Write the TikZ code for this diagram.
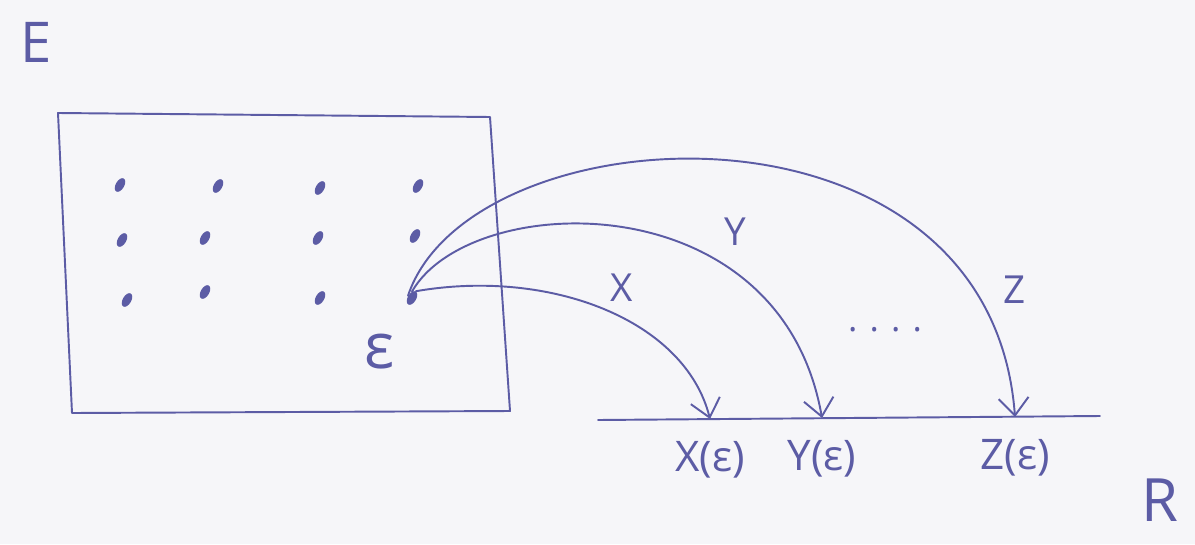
\documentclass[tikz,border=0pt]{standalone}
\usepackage{fontspec}
\setmainfont{Open Sans}
\usepackage{xcolor}
\usepackage{tikz}
\usetikzlibrary{positioning, arrows.meta, shapes.geometric}

\definecolor{ink}{RGB}{92,92,165}
\definecolor{paper}{RGB}{246,246,249}

\tikzset{
  pen/.style={draw=ink, line width=1.1pt, line cap=round, line join=round},
  map/.style={pen, -{Straight Barb[length=10pt, width=17pt, line width=1.1pt]}},
  dot/.style={ellipse, fill=ink, inner sep=0pt, minimum width=0.3cm, minimum height=0.17cm, rotate=60},
  hand/.style={text=ink, inner sep=1pt, font=\fontsize{#1}{#1}\selectfont},
  hand/.default=24pt
}

\begin{document}
\begin{tikzpicture}[x=0.02cm, y=-0.02cm]
    \useasboundingbox[fill=paper] (0,0) rectangle (1195,544);

    % sample space
    \node[hand=32pt] (setE) at (36,42) {E};
    \draw[pen] (58,113) -- (490,117) -- (510,411) -- (72,413) -- cycle;

    % outcomes
    \foreach \x/\y [count=\i] in {120/185, 218/186, 320/188, 418/186,
                                  122/240, 205/238, 318/238, 415/236,
                                  127/300, 205/292, 320/298}
      \node[dot] (d\i) at (\x,\y) {};
    \node[dot] (eps) at (412,298) {};
    \node[hand=36pt] (epslabel) at (380,352) {ε};

    % real line
    \coordinate (rl) at (598,420);
    \coordinate (rr) at (1100,416);
    \draw[pen] (rl) -- (rr);
    \node[hand=34pt] (setR) at (1160,500) {R};

    \coordinate (xe) at (710,419);
    \coordinate (ye) at (822,418);
    \coordinate (ze) at (1015,417);

    % random variables
    \draw[map] (eps.east) .. controls (550,268) and (685,320) .. (xe);
    \draw[map] (eps.north east) .. controls (470,190) and (780,180) .. (ye);
    \draw[map] (eps.north) .. controls (470,110) and (990,80) .. (ze);

    \node[hand=22pt] (lx) at (622,288) {X};
    \node[hand=22pt] (ly) at (735,232) {Y};
    \node[hand=22pt] (lz) at (1015,290) {Z};
    \node[hand=20pt] (more) at (885,330) {. . . .};

    \node[hand, below=4mm of xe] (vx) {X(ε)};
    \node[hand, below=4mm of ye] (vy) {Y(ε)};
    \node[hand, below=4mm of ze] (vz) {Z(ε)};
\end{tikzpicture}
\end{document}
